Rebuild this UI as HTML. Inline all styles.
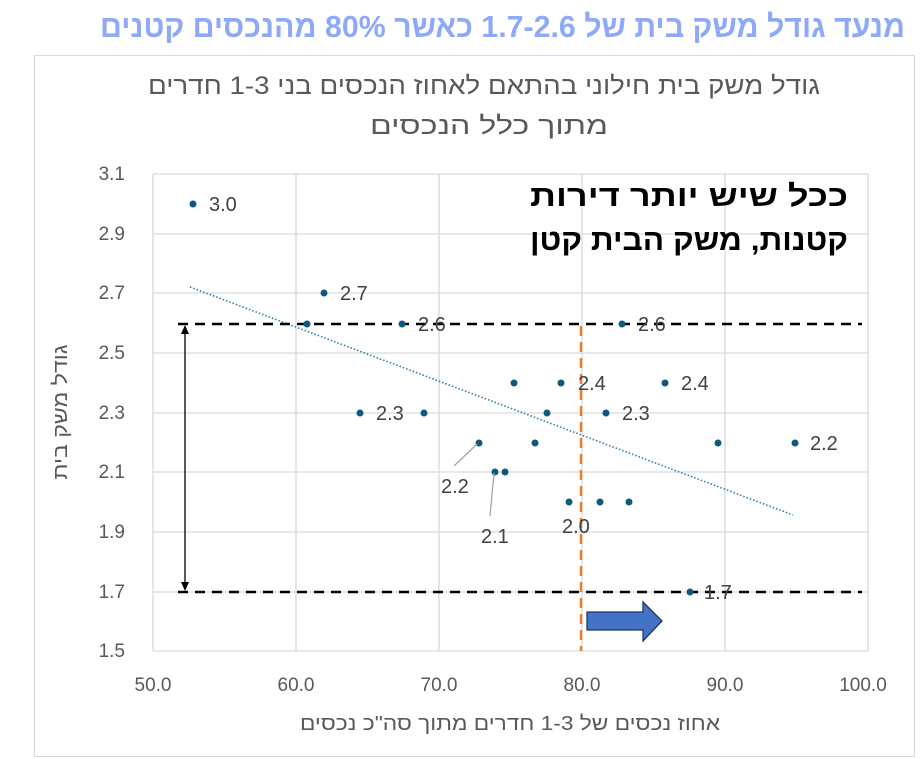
<!DOCTYPE html>
<html><head><meta charset="utf-8"><style>
body{margin:0;background:#fff;width:922px;height:759px;overflow:hidden;}
svg{display:block;font-family:"Liberation Sans","Noto Sans CJK JP",sans-serif;}
</style></head><body>
<svg width="922" height="759" viewBox="0 0 922 759">
<text x="905" y="37" text-anchor="start" direction="rtl" font-size="31" font-weight="bold" fill="#8ea9f7" textLength="805" lengthAdjust="spacingAndGlyphs">מנעד גודל משק בית של 1.7-2.6 כאשר 80% מהנכסים קטנים</text>
<rect x="34.5" y="55.5" width="880" height="701" fill="#fff" stroke="#d9d9d9"/>
<text x="484" y="94" text-anchor="middle" direction="rtl" font-size="25" fill="#595959" textLength="672" lengthAdjust="spacingAndGlyphs">גודל משק בית חילוני בהתאם לאחוז הנכסים בני 1-3 חדרים</text>
<text x="489" y="134" text-anchor="middle" direction="rtl" font-size="25" fill="#595959" textLength="238" lengthAdjust="spacingAndGlyphs">מתוך כלל הנכסים</text>
<g stroke="#d9d9d9" stroke-width="1.3">
<line x1="153" y1="174" x2="868" y2="174"/><line x1="153" y1="234" x2="868" y2="234"/><line x1="153" y1="293" x2="868" y2="293"/><line x1="153" y1="353" x2="868" y2="353"/><line x1="153" y1="413" x2="868" y2="413"/><line x1="153" y1="472" x2="868" y2="472"/><line x1="153" y1="532" x2="868" y2="532"/><line x1="153" y1="592" x2="868" y2="592"/><line x1="153" y1="651" x2="868" y2="651"/>
<line x1="153" y1="174" x2="153" y2="651"/><line x1="296" y1="174" x2="296" y2="651"/><line x1="439" y1="174" x2="439" y2="651"/><line x1="582" y1="174" x2="582" y2="651"/><line x1="725" y1="174" x2="725" y2="651"/><line x1="868" y1="174" x2="868" y2="651"/>
</g>
<g font-size="19" fill="#595959" text-anchor="end">
<text x="125" y="180">3.1</text><text x="125" y="240">2.9</text><text x="125" y="299">2.7</text><text x="125" y="359">2.5</text><text x="125" y="419">2.3</text><text x="125" y="478">2.1</text><text x="125" y="538">1.9</text><text x="125" y="598">1.7</text><text x="125" y="657">1.5</text>
</g>
<g font-size="19" fill="#595959" text-anchor="middle">
<text x="153" y="691">50.0</text><text x="296" y="691">60.0</text><text x="439" y="691">70.0</text><text x="582" y="691">80.0</text><text x="725" y="691">90.0</text><text x="863" y="691">100.0</text>
</g>
<text x="510" y="730" text-anchor="middle" direction="rtl" font-size="20" fill="#595959" textLength="420" lengthAdjust="spacingAndGlyphs">אחוז נכסים של 1-3 חדרים מתוך סה"כ נכסים</text>
<text transform="translate(67,412) rotate(-90)" text-anchor="middle" direction="rtl" font-size="20" fill="#595959" textLength="135" lengthAdjust="spacingAndGlyphs">גודל משק בית</text>
<line x1="190" y1="287" x2="793" y2="515" stroke="#2e7ea6" stroke-width="1.6" stroke-dasharray="1.5,2"/>
<g stroke="#000" stroke-width="2.5" stroke-dasharray="10,7">
<line x1="178" y1="324" x2="862" y2="324"/><line x1="178" y1="592" x2="862" y2="592"/>
</g>
<line x1="581" y1="326" x2="581" y2="651" stroke="#ed7d31" stroke-width="2.5" stroke-dasharray="10,6"/>
<line x1="185" y1="332" x2="185" y2="584" stroke="#000" stroke-width="1.3"/>
<polygon points="185,325 181,334 189,334" fill="#000"/><polygon points="185,591 181,582 189,582" fill="#000"/>
<polygon points="587,612 643,612 643,602 662,621 643,641 643,630 587,630" fill="#4472c4" stroke="#1f3864" stroke-width="1.3"/>
<g fill="#0e5a7c">
<circle cx="193" cy="204" r="3.5"/><circle cx="324" cy="293" r="3.5"/>
<circle cx="307" cy="324" r="3.5"/><circle cx="402" cy="324" r="3.5"/><circle cx="622" cy="324" r="3.5"/>
<circle cx="514" cy="383" r="3.5"/><circle cx="561" cy="383" r="3.5"/><circle cx="665" cy="383" r="3.5"/>
<circle cx="360" cy="413" r="3.5"/><circle cx="424" cy="413" r="3.5"/><circle cx="547" cy="413" r="3.5"/><circle cx="606" cy="413" r="3.5"/>
<circle cx="479" cy="443" r="3.5"/><circle cx="535" cy="443" r="3.5"/><circle cx="718" cy="443" r="3.5"/><circle cx="795" cy="443" r="3.5"/>
<circle cx="495" cy="472" r="3.5"/><circle cx="505" cy="472" r="3.5"/>
<circle cx="569" cy="502" r="3.5"/><circle cx="600" cy="502" r="3.5"/><circle cx="629" cy="502" r="3.5"/>
<circle cx="690" cy="592" r="3.5"/>
</g>
<g stroke="#a6a6a6" stroke-width="1.3"><line x1="477" y1="444" x2="454" y2="466"/><line x1="494" y1="473" x2="490" y2="516"/></g>
<g font-size="20" fill="#404040">
<text x="209" y="211">3.0</text><text x="340" y="300">2.7</text><text x="418" y="331">2.6</text><text x="638" y="331">2.6</text>
<text x="578" y="390">2.4</text><text x="681" y="390">2.4</text><text x="376" y="420">2.3</text><text x="622" y="420">2.3</text>
<text x="810" y="450">2.2</text><text x="441" y="493">2.2</text><text x="481" y="543">2.1</text><text x="562" y="533">2.0</text><text x="704" y="599">1.7</text>
</g>
<g font-size="30" font-weight="bold" fill="#000" text-anchor="start" direction="rtl">
<text x="848" y="206" textLength="318" lengthAdjust="spacingAndGlyphs">ככל שיש יותר דירות</text>
<text x="848" y="250" textLength="318" lengthAdjust="spacingAndGlyphs">קטנות, משק הבית קטן</text>
</g>
</svg>
</body></html>
